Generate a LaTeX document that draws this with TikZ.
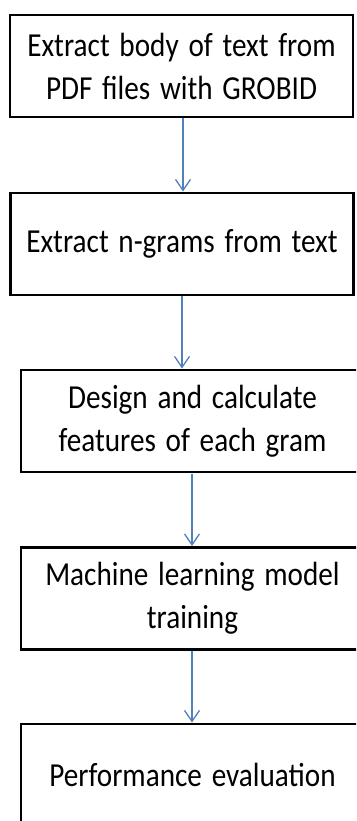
\documentclass[tikz,border=0pt]{standalone}
\usepackage{fontspec}
\setmainfont{Carlito}
\usetikzlibrary{arrows.meta}

\definecolor{flowblue}{RGB}{79,129,189}

\begin{document}
\begin{tikzpicture}
[
	x=1pt,y=-1pt,
	stepbox/.style={rectangle,draw,line width=2.6pt,minimum width=343pt,minimum height=88.7pt,
		text width=330pt,align=center,inner sep=0pt,font=\fontsize{29.2}{37.4}\selectfont,
		yscale=1.15,transform shape},
	flow/.style={flowblue,line width=1.3pt,-{Straight Barb[length=11pt,width=15pt,line width=1.3pt]}}
]

	% page frame, the lower boxes run off the right edge
	\clip (0,0) rectangle (356,821);

	% steps
	\node[stepbox] (extract) at (181.5,66) {Extract body of text from\\PDF files with GROBID};
	\node[stepbox] (ngrams) at (182,244) {Extract n-grams from text};
	\node[stepbox] (features) at (192.5,421) {Design and calculate\\features of each gram};
	\node[stepbox] (training) at (192.5,598.5) {Machine learning model\\training};
	\node[stepbox] (evaluation) at (192.5,775) {Performance evaluation};

	% arrows between the steps
	\draw[flow] (extract.south -| 183,0) -- (ngrams.north -| 183,0);
	\draw[flow] (ngrams.south -| 182,0) -- (features.north -| 182,0);
	\draw[flow] (features.south -| 192,0) -- (training.north -| 192,0);
	\draw[flow] (training.south -| 192,0) -- (evaluation.north -| 192,0);

\end{tikzpicture}
\end{document}
